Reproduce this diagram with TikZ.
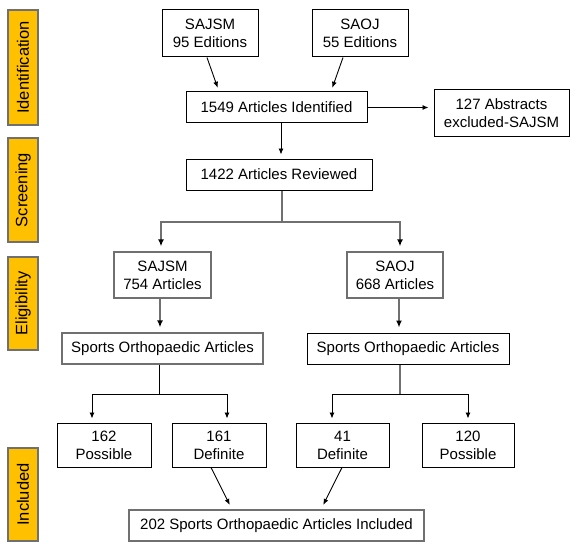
\documentclass[tikz,border=0pt]{standalone}
\usepackage{fontspec}
\setmainfont{Liberation Sans}
\usetikzlibrary{arrows.meta}
\definecolor{phase}{HTML}{FFC000}
\definecolor{lgray}{HTML}{707070}
\tikzset{
  box/.style={draw=black, line width=1pt, inner sep=0pt, align=center, font=\fontsize{15}{18}\selectfont},
  gbox/.style={box, draw=lgray, line width=1.3pt},
  phasebox/.style={draw=lgray, line width=1.2pt, fill=phase, inner sep=0pt, minimum height=30pt, rotate=90, font=\fontsize{16.5}{19}\selectfont},
  arr/.style={-{Latex[length=6pt,width=5pt]}, line width=0.9pt},
  garr/.style={-{Latex[length=7pt,width=6pt,color=black]}, draw=lgray, line width=1.6pt},
}
\begin{document}
\begin{tikzpicture}[x=1pt,y=-1pt]
\useasboundingbox (0,0) rectangle (579,551);
% phase labels
\node[phasebox, minimum width=115pt] (pid) at (23,67.5) {Identification};
\node[phasebox, minimum width=104pt] (psc) at (23,190) {Screening};
\node[phasebox, minimum width=93pt] (pel) at (23,303.5) {Eligibility};
\node[phasebox, minimum width=93pt] (pin) at (23,494.5) {Included};
% boxes
\node[box, minimum width=96pt, minimum height=47pt] (sajsm) at (210,33.5) {SAJSM\\95 Editions};
\node[box, minimum width=96pt, minimum height=47pt] (saoj) at (360,33.5) {SAOJ\\55 Editions};
\node[box, minimum width=181pt, minimum height=31pt] (ident) at (276.5,107.5) {1549 Articles Identified};
\node[box, minimum width=135pt, minimum height=46pt] (excl) at (501.5,113) {127 Abstracts\\excluded-SAJSM};
\node[box, minimum width=186pt, minimum height=31pt] (rev) at (279,174.5) {1422 Articles Reviewed};
\node[gbox, minimum width=97pt, minimum height=46pt] (sajsm2) at (162.5,275) {SAJSM\\754 Articles};
\node[gbox, minimum width=96pt, minimum height=46pt] (saoj2) at (395,275) {SAOJ\\668 Articles};
\node[gbox, minimum width=201pt, minimum height=31pt] (spl) at (162.5,348.5) {Sports Orthopaedic Articles};
\node[box, minimum width=202pt, minimum height=31pt] (spr) at (408,348.5) {Sports Orthopaedic Articles};
\node[box, minimum width=94pt, minimum height=44pt] (p162) at (104,445) {162\\Possible};
\node[box, minimum width=94pt, minimum height=44pt] (d161) at (219,445) {161\\Definite};
\node[box, minimum width=93pt, minimum height=44pt] (d41) at (342.5,445) {41\\Definite};
\node[box, minimum width=92pt, minimum height=44pt] (p120) at (468,445) {120\\Possible};
\node[gbox, minimum width=295pt, minimum height=31pt] (incl) at (276.5,525.5) {202 Sports Orthopaedic Articles Included};
% coordinates
\coordinate (j1) at (282,222);
\coordinate (j2) at (159,394);
\coordinate (j3) at (400,394);
% connectors
\draw[arr, shorten >=4pt] (sajsm.south -| 207,0) -- (ident.north -| 219,0);
\draw[arr, shorten >=4pt] (saoj.south -| 343,0) -- (ident.north -| 331,0);
\draw[arr, shorten >=5pt] (ident.east) -- (excl.west |- ident.east);
\draw[arr, shorten >=4pt] (ident.south -| 281,0) -- (rev.north -| 281,0);
\draw[garr, shorten >=5pt] (rev.south -| j1) -- (j1) -| (sajsm2.north -| 161,0);
\draw[garr, shorten >=5pt] (j1) -| (saoj2.north -| 400,0);
\draw[garr, shorten >=5pt] (sajsm2.south -| 160,0) -- (spl.north -| 160,0);
\draw[garr, shorten >=5pt] (saoj2.south -| 399,0) -- (spr.north -| 399,0);
\draw[line width=1pt] (spl.south -| j2) -- (j2);
\draw[arr, shorten >=4pt] (j2) -| (p162.north -| 92,0);
\draw[arr, shorten >=4pt] (j2) -| (d161.north -| 227,0);
\draw[line width=1.4pt, draw=lgray] (spr.south -| j3) -- (j3);
\draw[arr, shorten >=4pt] (j3) -| (d41.north -| 332,0);
\draw[arr, shorten >=4pt] (j3) -| (p120.north -| 468,0);
\draw[arr, shorten >=5pt] (d161.south -| 211,0) -- (incl.north -| 232,0);
\draw[arr, shorten >=5pt] (d41.south -| 342,0) -- (incl.north -| 321,0);
\end{tikzpicture}
\end{document}
